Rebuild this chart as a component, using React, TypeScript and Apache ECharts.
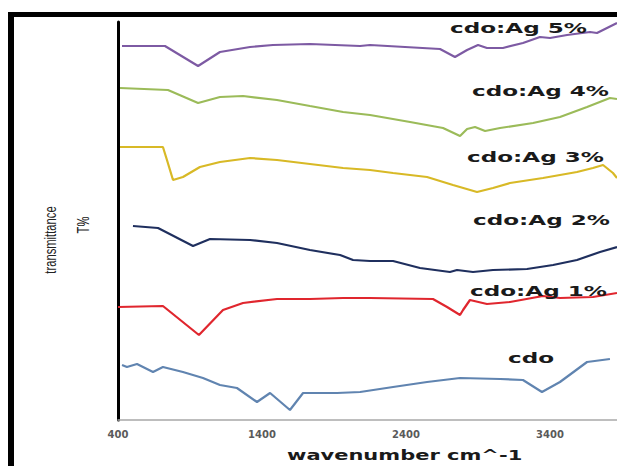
import React, { useEffect, useRef } from "react";
import * as echarts from "echarts";

// wavenumber (cm^-1) and transmittance (offset, a.u.)
const ag5X = [428, 726, 956, 1108, 1317, 1476, 1733, 2081, 2150, 2636, 2740, 2824, 2900, 2962, 3073, 3212, 3330, 3400, 3518, 3678, 3726, 3865];
const ag5Y = [93.5, 93.5, 88.5, 92, 93.25, 93.75, 94, 93.5, 93.75, 92.75, 90.75, 92.5, 93.75, 93, 93, 94.25, 95.75, 95.5, 96.25, 97, 96.75, 99.25];

const ag4X = [414, 747, 956, 1108, 1268, 1504, 1733, 1963, 2150, 2428, 2657, 2775, 2824, 2879, 2949, 3053, 3282, 3469, 3657, 3816, 3865];
const ag4Y = [83, 82.5, 79.25, 80.75, 81, 80, 78.5, 77, 76.25, 74.5, 73, 71, 72.75, 73.25, 72.25, 73, 74.25, 75.75, 78.25, 80.5, 80.25];

const ag3X = [414, 712, 740, 782, 851, 969, 1108, 1317, 1504, 1733, 1963, 2150, 2310, 2546, 2726, 2893, 3004, 3122, 3351, 3587, 3698, 3768, 3837, 3865];
const ag3Y = [68.25, 68.25, 65, 60, 60.75, 63.25, 64.5, 65.5, 65, 64, 63, 62.5, 61.75, 60.75, 58.75, 57, 58, 59.25, 60.5, 62, 63, 63.75, 61.75, 60.5];

const ag2X = [504, 678, 921, 1039, 1317, 1504, 1733, 1942, 2032, 2150, 2310, 2497, 2705, 2754, 2865, 3004, 3240, 3421, 3587, 3747, 3865];
const ag2Y = [48.5, 48, 43.5, 45.25, 45, 44.25, 42.5, 41.25, 40, 39.75, 39.75, 38, 37, 37.5, 37, 37.5, 37.75, 38.75, 40, 42, 43.25];

const ag1X = [400, 712, 962, 1129, 1268, 1504, 1733, 1963, 2150, 2587, 2685, 2775, 2796, 2844, 2962, 3122, 3351, 3469, 3698, 3865];
const ag1Y = [28.25, 28.5, 21.25, 27.5, 29.25, 30.25, 30.25, 30.5, 30.5, 30.25, 28.25, 26.25, 27.5, 30, 29, 29.5, 31, 30.5, 30.75, 31.75];

const cdoX = [428, 462, 532, 643, 712, 851, 990, 1108, 1226, 1365, 1456, 1594, 1685, 1921, 2081, 2310, 2546, 2775, 3053, 3212, 3344, 3469, 3657, 3816];
const cdoY = [13.75, 13.25, 14, 12, 13.25, 12, 10.5, 8.75, 8, 4.5, 6.75, 2.5, 6.75, 6.75, 7, 8.25, 9.5, 10.5, 10.25, 10, 7, 9.5, 14.5, 15.25];

const seriesNames = ["cdo:Ag 5%", "cdo:Ag 4%", "cdo:Ag 3%", "cdo:Ag 2%", "cdo:Ag 1%", "cdo"];
const seriesColors = ["#7d5aa3", "#9bbb59", "#d8b926", "#1f2f5e", "#e0262e", "#6084b0"];
const tickValues = [400, 1400, 2400, 3400];

const zip = (xs: number[], ys: number[]) => xs.map((x, i) => [x, ys[i]]);

export default function App() {
  const ref = useRef<HTMLDivElement>(null);
  useEffect(() => {
    if (!ref.current) return;
    const chart = echarts.init(ref.current, null, { renderer: "svg" });
    const data = [zip(ag5X, ag5Y), zip(ag4X, ag4Y), zip(ag3X, ag3Y), zip(ag2X, ag2Y), zip(ag1X, ag1Y), zip(cdoX, cdoY)];
    const labelPos = [
      [450, 28],
      [472, 91],
      [467, 157],
      [473, 220],
      [470, 291],
      [508, 358],
    ];
    const labelFont = 'bold 14px "DejaVu Sans", sans-serif';
    const yTitleFont = '17px "Liberation Sans", Arial, sans-serif';
    chart.setOption({
      animation: false,
      backgroundColor: "#ffffff",
      grid: { left: 118, top: 22, right: 0, bottom: 46, containLabel: false },
      xAxis: {
        type: "value",
        min: tickValues[0],
        max: 3865,
        interval: 1000,
        axisLine: { show: true, lineStyle: { color: "#a8a8a8", width: 1.5 } },
        axisTick: { show: false },
        splitLine: { show: false },
        axisLabel: {
          showMaxLabel: false,
          margin: 9,
          fontSize: 10,
          fontWeight: "bold",
          color: "#5a5a5a",
          fontFamily: "DejaVu Sans",
          formatter: (v: number) => String(v),
        },
      },
      yAxis: {
        type: "value",
        min: 0,
        max: 99.5,
        axisLine: { show: true, lineStyle: { color: "#000000", width: 3 } },
        axisTick: { show: false },
        axisLabel: { show: false },
        splitLine: { show: false },
      },
      series: data.map((d, i) => ({
        name: seriesNames[i],
        type: "line",
        data: d,
        showSymbol: false,
        symbol: "none",
        smooth: false,
        lineStyle: { color: seriesColors[i], width: 2.2 },
        z: 3,
      })),
      graphic: [
        { type: "rect", shape: { x: 8, y: 12, width: 609, height: 5 }, style: { fill: "#000" }, z: 10 },
        { type: "rect", shape: { x: 8, y: 12, width: 6, height: 454 }, style: { fill: "#000" }, z: 10 },
        ...seriesNames.map((n, i) => ({
          type: "text",
          x: labelPos[i][0],
          y: labelPos[i][1],
          scaleX: 1.65,
          z: 20,
          style: { text: n, font: labelFont, fill: "#1a1a1a", align: "left", verticalAlign: "middle" },
        })),
        {
          type: "text",
          x: 287,
          y: 455,
          scaleX: 1.5,
          z: 20,
          style: { text: "wavenumber cm^-1", font: labelFont, fill: "#1a1a1a", align: "left", verticalAlign: "middle" },
        },
        {
          type: "text",
          x: 50,
          y: 240,
          rotation: Math.PI / 2,
          scaleX: 0.66,
          z: 20,
          style: { text: "transmittance", font: yTitleFont, fill: "#222", align: "center", verticalAlign: "middle" },
        },
        {
          type: "text",
          x: 83,
          y: 225,
          rotation: Math.PI / 2,
          scaleX: 0.66,
          z: 20,
          style: { text: "T%", font: yTitleFont, fill: "#222", align: "center", verticalAlign: "middle" },
        },
      ],
    });
    return () => chart.dispose();
  }, []);
  return <div ref={ref} style={{ position: "absolute", left: 0, top: 0, width: 617, height: 466 }} />;
}
